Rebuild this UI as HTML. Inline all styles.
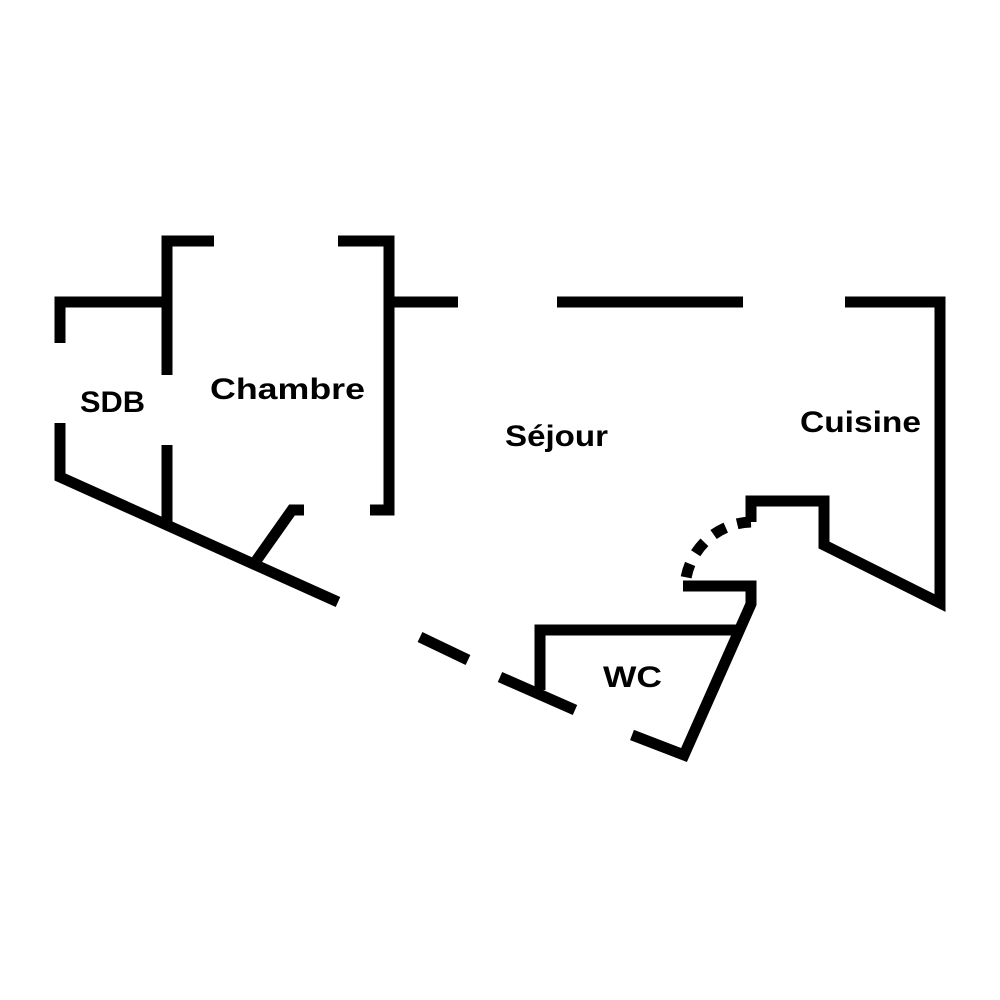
<!DOCTYPE html>
<html><head><meta charset="utf-8"><style>
html,body{margin:0;padding:0;background:#fff;}
svg{display:block}
text{font-family:"Liberation Sans",sans-serif;font-weight:bold;font-size:30px;fill:#000}
</style></head><body>
<svg width="1000" height="1000" viewBox="0 0 1000 1000">
<g fill="none" stroke="#000" stroke-width="11" stroke-linejoin="miter" stroke-linecap="butt">
<polyline points="214,241 167,241 167,375"/>
<polyline points="60,343 60,302 167,302"/>
<polyline points="60,423 60,477 338,602"/>
<line x1="167" y1="445" x2="167" y2="524"/>
<polyline points="256,561 292,510 304,510"/>
<polyline points="338,241 389,241 389,510 370,510"/>
<line x1="389" y1="302" x2="458" y2="302"/>
<line x1="557" y1="302" x2="743" y2="302"/>
<polyline points="845,302 940,302 940,603 824,545 824,501 751,501 751,522"/>
<path d="M751,522 A68,68 0 0 0 686,578" stroke-dasharray="14,12"/>
<polyline points="683,586 751,586 751,604 684,755 632,735"/>
<polyline points="740,630 540,630 540,690"/>
<line x1="500" y1="677" x2="575" y2="710"/>
<line x1="420" y1="637" x2="468" y2="660"/>
</g>
<text x="80" y="412" textLength="65" lengthAdjust="spacingAndGlyphs">SDB</text>
<text x="210" y="399" textLength="155" lengthAdjust="spacingAndGlyphs">Chambre</text>
<text x="505" y="446" textLength="103" lengthAdjust="spacingAndGlyphs">Séjour</text>
<text x="800" y="432" textLength="121" lengthAdjust="spacingAndGlyphs">Cuisine</text>
<text x="603" y="687" textLength="59" lengthAdjust="spacingAndGlyphs">WC</text>
</svg>
</body></html>
